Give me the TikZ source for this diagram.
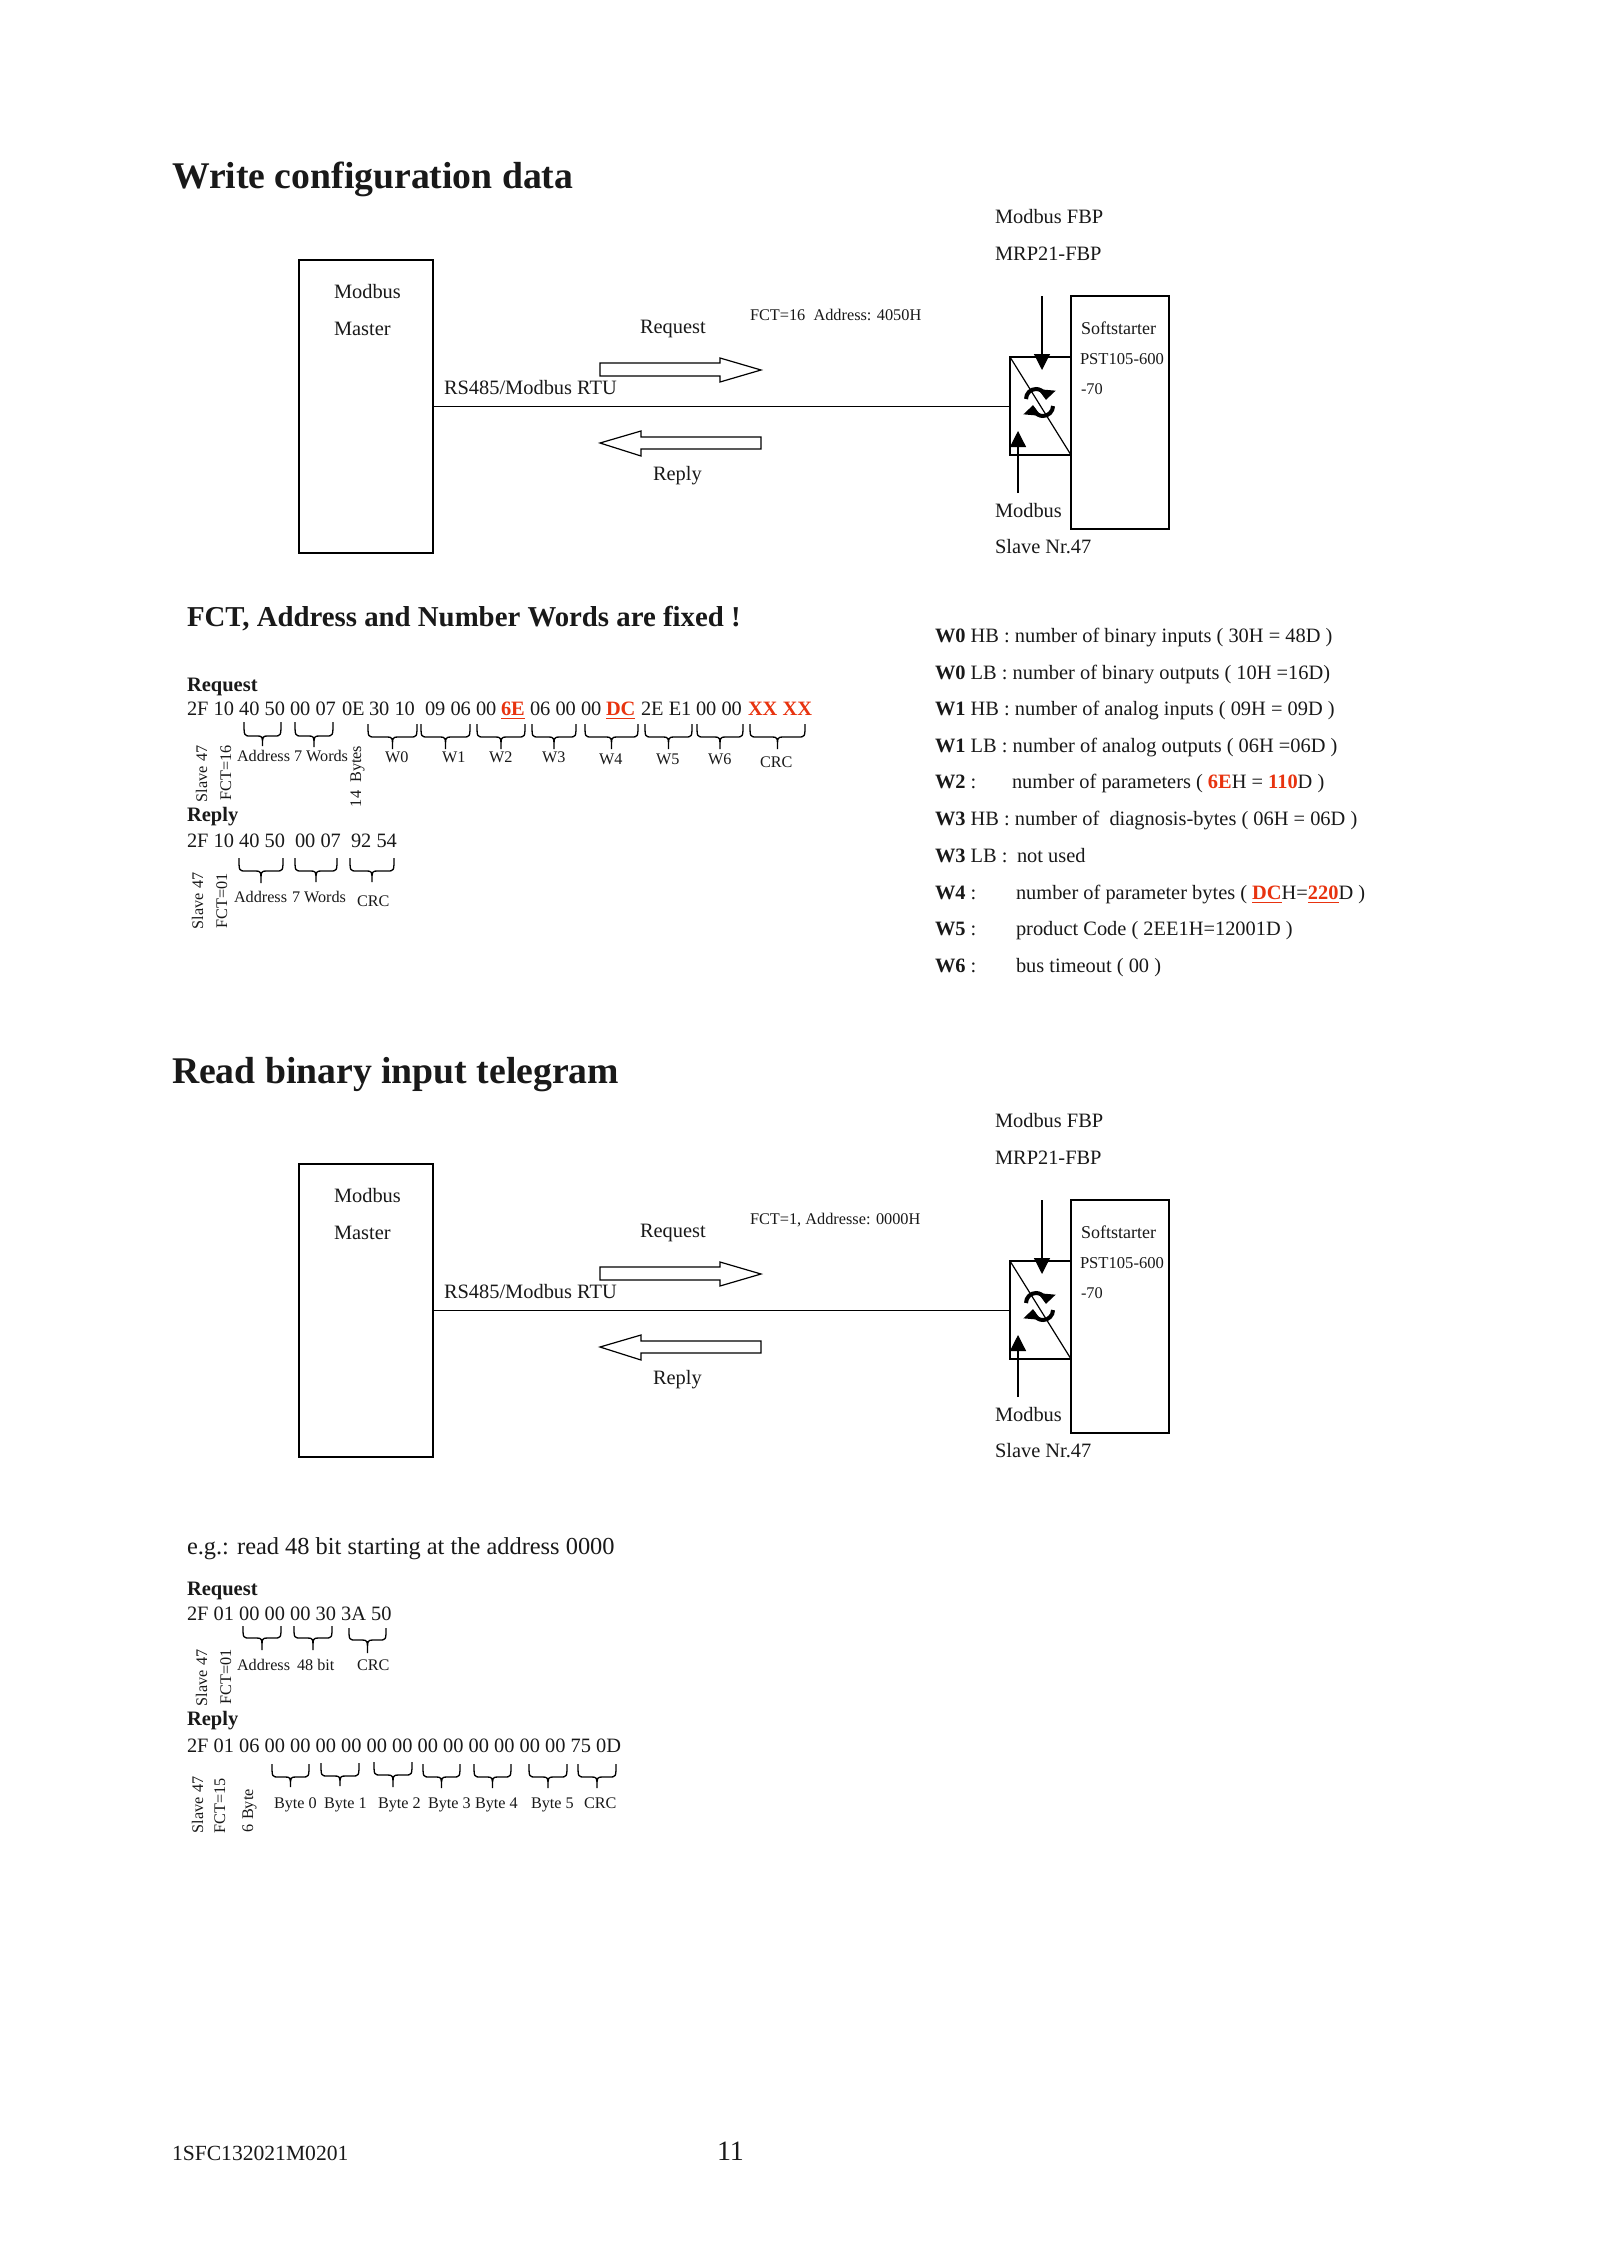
\documentclass[tikz,border=0pt]{standalone}
\usepackage{fontspec}
\setmainfont{Liberation Serif}
\usetikzlibrary{arrows.meta,calc}
\definecolor{hot}{HTML}{E8330F}
\newcommand\fsz[1]{\fontsize{#1}{#1}\selectfont}
\newcommand\hot[1]{\textcolor{hot}{\textbf{#1}}}
\newcommand\hotu[1]{\textcolor{hot}{\underline{\textbf{#1}}}}
\tikzset{
  x=0.5pt,y=-0.5pt,
  txt/.style={anchor=base west,inner sep=0pt,outer sep=0pt,font=\fsz{10.2},text=black!90},
  sm/.style={txt,font=\fsz{8.1}},
  mid/.style={txt,font=\fsz{8.15}},
  ttl/.style={txt,font=\fsz{18.85}\bfseries},
  sub/.style={txt,font=\fsz{14.4}\bfseries},
  hd/.style={txt,font=\fsz{10.25}\bfseries},
  rot/.style={sm,rotate=90},
  boxn/.style={draw,inner sep=0pt,outer sep=0pt,line width=0.6pt},
  ln/.style={line width=0.6pt},
  tip/.style={ln,-{Triangle[length=8pt,width=8pt]}},
  blk/.style={line width=0.6pt,fill=white},
  brc/.style={line width=0.65pt},
  swirl/.style={line width=2pt,-{Triangle[length=5pt,width=8.5pt]}},
}
\newcommand\brc[6]{% name x1 x2 top bar tip
  \pgfmathsetmacro\bm{(#2+#3)/2}
  \draw[brc] (#2,#4) .. controls (#2,#5) .. (#2+7,#5) -- (\bm-6,#5) .. controls (\bm,#5) .. (\bm,#6)
     .. controls (\bm,#5) .. (\bm+6,#5) -- (#3-7,#5) .. controls (#3,#5) .. (#3,#4);}
\newcommand\diag[3]{% prefix yshift label
 \begin{scope}[yshift=-0.5pt*#2]
  \node[boxn,minimum width=67pt,minimum height=146.5pt] (#1m) at (366,406.5) {};
  \node[boxn,minimum width=30.5pt,minimum height=49pt] (#1c) at (1040.5,406) {};
  \node[boxn,minimum width=49pt,minimum height=116.5pt] (#1s) at (1120,412.5) {};
  \draw[ln] (#1c.north west) -- (#1c.south east);
  \draw[ln] (#1m.east) -- (#1m.east -| #1c.west);
  \coordinate (#1a0) at (1042,296); \coordinate (#1a1) at (1042,370);
  \coordinate (#1b0) at (1018,493); \coordinate (#1b1) at (1018,431);
  \draw[tip] (#1a0) -- (#1a1);
  \draw[tip] (#1b0) -- (#1b1);
  \draw[swirl] (1026,399) arc[start angle=180,end angle=-5,radius=5pt];
  \draw[swirl] (1053,406) arc[start angle=0,end angle=-185,radius=5pt];
  \draw[blk] (600,363) -- (720,363) -- (720,358) -- (761,370) -- (720,382) -- (720,376) -- (600,376) -- cycle;
  \draw[blk] (761,437) -- (641,437) -- (641,431) -- (600,443) -- (641,456) -- (641,449) -- (761,449) -- cycle;
  \node[txt] (#1t1) at (995,223) {Modbus FBP};
  \node[txt] (#1t2) at (995,260) {MRP21-FBP};
  \node[txt] (#1t3) at (334,298) {Modbus};
  \node[txt] (#1t4) at (334,335) {Master};
  \node[txt] (#1t5) at (640,333) {Request};
  \node[mid] (#1t6) at (750,320) {#3};
  \node[txt] (#1t7) at (444,394) {RS485/Modbus RTU};
  \node[txt] (#1t8) at (653,480) {Reply};
  \node[txt] (#1t9) at (995,517) {Modbus};
  \node[txt] (#1t10) at (995,553) {Slave Nr.47};
  \node[txt,font=\fsz{9}] (#1t11) at (1081,334) {Softstarter};
  \node[txt,font=\fsz{8.3}] (#1t12) at (1080,364) {PST105-600};
  \node[mid] (#1t13) at (1081,394) {-70};
 \end{scope}}
\begin{document}
\begin{tikzpicture}
\useasboundingbox (0,0) rectangle (1600,2264);
\fill[white] (0,0) rectangle (1600,2264);
\node[ttl] (title1) at (172,188) {Write configuration data};
\diag{A}{0}{FCT=16\ \ Address: 4050H}
\node[sub] (fixed) at (187,626) {FCT, Address and Number Words are fixed !};
% request 1
\node[hd] (rq1) at (187,691) {Request};
\node[txt] (h1) at (187,715) {2F 10 40 50};
\node[txt] (h2) at (290,715) {00 07};
\node[txt] (h3) at (342,715) {0E};
\node[txt] (h4) at (369,715) {30 10};
\node[txt] (h5) at (425,715) {09 06 00};
\node[txt] (h6) at (501,715) {\hotu{6E}};
\node[txt] (h7) at (530,715) {06 00 00};
\node[txt] (h8) at (606,715) {\hotu{DC}};
\node[txt] (h9) at (641,715) {2E E1};
\node[txt] (h10) at (696,715) {00 00};
\node[txt] (h11) at (748,715) {\hot{XX XX}};
\brc{}{244}{281}{722}{736}{746}
\brc{}{295}{333}{722}{736}{747}
\brc{}{368}{417}{724}{737}{749}
\brc{}{421}{470}{724}{737}{749}
\brc{}{477}{525}{724}{737}{749}
\brc{}{532}{576}{724}{737}{749}
\brc{}{585}{638}{724}{737}{749}
\brc{}{645}{692}{724}{737}{749}
\brc{}{697}{743}{724}{737}{749}
\brc{}{750}{805}{724}{737}{749}
\node[sm] (l1) at (237,761) {Address};
\node[sm] (l2) at (294,761) {7 Words};
\node[sm] (l3) at (385,762) {W0};
\node[sm] (l4) at (442,762) {W1};
\node[sm] (l5) at (489,762) {W2};
\node[sm] (l6) at (542,762) {W3};
\node[sm] (l7) at (599,764) {W4};
\node[sm] (l8) at (656,764) {W5};
\node[sm] (l9) at (708,764) {W6};
\node[sm] (l10) at (760,767) {CRC};
\node[rot] (r1) at (207,802) {Slave 47};
\node[rot] (r2) at (231,800) {FCT=16};
\node[rot] (r3) at (361,807) {14\ \ Bytes};
% reply 1
\node[hd] (rp1) at (187,821) {Reply};
\node[txt] (p1) at (187,847) {2F 10 40 50};
\node[txt] (p2) at (295,847) {00 07};
\node[txt] (p3) at (351,847) {92 54};
\brc{}{239}{283}{858}{871}{883}
\brc{}{295}{337}{858}{871}{882}
\brc{}{350}{394}{858}{871}{882}
\node[sm] (m1) at (234,902) {Address};
\node[sm] (m2) at (292,902) {7 Words};
\node[sm] (m3) at (357,906) {CRC};
\node[rot] (r4) at (203,929) {Slave 47};
\node[rot] (r5) at (227,928) {FCT=01};
% list
\node[txt] (w1) at (935,642) {\textbf{W0} HB : number of binary inputs ( 30H = 48D )};
\node[txt] (w2) at (935,679) {\textbf{W0} LB : number of binary outputs ( 10H =16D)};
\node[txt] (w3) at (935,715) {\textbf{W1} HB : number of analog inputs ( 09H = 09D )};
\node[txt] (w4) at (935,752) {\textbf{W1} LB : number of analog outputs ( 06H =06D )};
\node[txt] (w5) at (935,788) {\textbf{W2} :};
\node[txt] (w5b) at (1012,788) {number of parameters ( \hot{6E}H = \hot{110}D )};
\node[txt] (w6) at (935,825) {\textbf{W3} HB : number of\ \ diagnosis-bytes ( 06H = 06D )};
\node[txt] (w7) at (935,862) {\textbf{W3} LB :};
\node[txt] (w7b) at (1017,862) {not used};
\node[txt] (w8) at (935,899) {\textbf{W4} :};
\node[txt] (w8b) at (1016,899) {number of parameter bytes ( \hotu{DC}H=\hotu{220}D )};
\node[txt] (w9) at (935,935) {\textbf{W5} :};
\node[txt] (w9b) at (1016,935) {product Code ( 2EE1H=12001D )};
\node[txt] (w10) at (935,972) {\textbf{W6} :};
\node[txt] (w10b) at (1016,972) {bus timeout ( 00 )};
% second part
\node[ttl] (title2) at (172,1083) {Read binary input telegram};
\diag{B}{904}{FCT=1, Addresse: 0000H}
\node[txt,font=\fsz{12.2}] (eg) at (187,1554) {e.g.: read 48 bit starting at the address 0000};
\node[hd] (rq2) at (187,1595) {Request};
\node[txt] (q1) at (187,1620) {2F 01 00 00 00 30 3A 50};
\brc{}{243}{281}{1626}{1638}{1650}
\brc{}{294}{332}{1626}{1638}{1650}
\brc{}{349}{386}{1628}{1640}{1653}
\node[sm] (n1) at (237,1670) {Address};
\node[sm] (n2) at (297,1670) {48 bit};
\node[sm] (n3) at (357,1670) {CRC};
\node[rot] (r6) at (207,1706) {Slave 47};
\node[rot] (r7) at (231,1704) {FCT=01};
\node[hd] (rp2) at (187,1725) {Reply};
\node[txt] (q2) at (187,1752) {2F 01 06 00 00 00 00 00 00 00 00 00 00 00 00 75 0D};
\brc{}{272}{309}{1764}{1777}{1787}
\brc{}{321}{359}{1763}{1776}{1786}
\brc{}{374}{412}{1762}{1775}{1787}
\brc{}{423}{460}{1764}{1777}{1788}
\brc{}{474}{511}{1764}{1777}{1788}
\brc{}{529}{567}{1764}{1777}{1788}
\brc{}{578}{616}{1764}{1777}{1788}
\node[sm] (o1) at (274,1808) {Byte 0};
\node[sm] (o2) at (324,1808) {Byte 1};
\node[sm] (o3) at (378,1808) {Byte 2};
\node[sm] (o4) at (428,1808) {Byte 3};
\node[sm] (o5) at (475,1808) {Byte 4};
\node[sm] (o6) at (531,1808) {Byte 5};
\node[sm] (o7) at (584,1808) {CRC};
\node[rot] (r8) at (203,1833) {Slave 47};
\node[rot] (r9) at (225,1833) {FCT=15};
\node[rot] (r10) at (253,1832) {6 Byte};
\node[txt,font=\fsz{10.8}] (foot) at (172,2160) {1SFC132021M0201};
\node[txt,font=\fsz{14}] (page) at (717,2160) {11};
\end{tikzpicture}
\end{document}
